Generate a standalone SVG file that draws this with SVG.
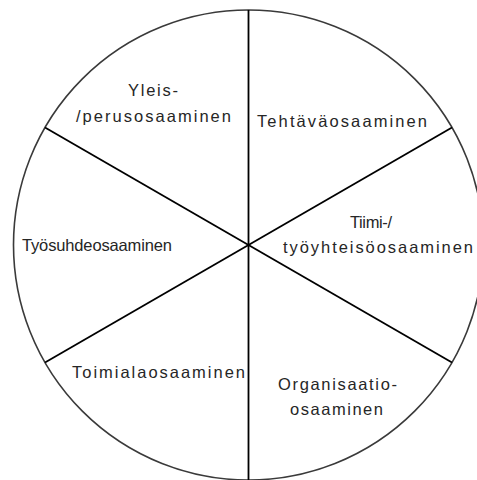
<svg xmlns="http://www.w3.org/2000/svg" width="477" height="480" viewBox="0 0 477 480">
<style>
.lbl{font-family:"Liberation Sans","Open Sans",sans-serif;font-size:16.5px;fill:#262626;}
.rim{fill:#fff;stroke:#3a3a3a;stroke-width:1.6;}
.div{stroke:#000;stroke-width:1.8;fill:none;}
</style>
<rect width="477" height="480" fill="#fff"/>
<circle class="rim" cx="248.5" cy="245" r="235"/>
<g id="connectors">
<line class="div" x1="248.5" y1="10" x2="248.5" y2="480"/>
<line class="div" x1="45" y1="127.5" x2="452" y2="362.5"/>
<line class="div" x1="45" y1="362.5" x2="452" y2="127.5"/>
</g>
<g id="yleis">
<text class="lbl" x="128" y="96" textLength="50" lengthAdjust="spacing">Yleis-</text>
<text class="lbl" x="76" y="122" textLength="155" lengthAdjust="spacing">/perusosaaminen</text>
</g>
<g id="tehtava">
<text class="lbl" x="257" y="127" textLength="170" lengthAdjust="spacing">Tehtäväosaaminen</text>
</g>
<g id="tyosuhde">
<text class="lbl" x="22" y="251" textLength="150" lengthAdjust="spacing">Työsuhdeosaaminen</text>
</g>
<g id="tiimi">
<text class="lbl" x="350" y="228" textLength="42" lengthAdjust="spacing">Tiimi-/</text>
<text class="lbl" x="283" y="253" textLength="190" lengthAdjust="spacing">työyhteisöosaaminen</text>
</g>
<g id="toimiala">
<text class="lbl" x="72" y="378" textLength="173" lengthAdjust="spacing">Toimialaosaaminen</text>
</g>
<g id="organisaatio">
<text class="lbl" x="278" y="390" textLength="119" lengthAdjust="spacing">Organisaatio-</text>
<text class="lbl" x="290" y="415" textLength="93" lengthAdjust="spacing">osaaminen</text>
</g>
</svg>
